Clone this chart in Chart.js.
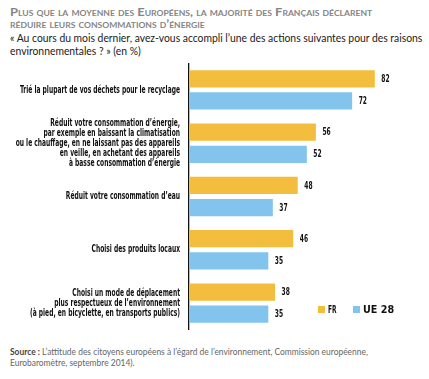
<!DOCTYPE html>
<html><head><meta charset="utf-8">
<script src="https://cdn.jsdelivr.net/npm/chart.js@4.4.1/dist/chart.umd.min.js"></script>
<style>
html,body{margin:0;padding:0;background:#fff;width:429px;height:379px;overflow:hidden;}
.t{position:absolute;left:10px;white-space:nowrap;transform-origin:0 50%;line-height:14px;height:14px;}
.title{font-family:Lato,"Liberation Sans",sans-serif;font-weight:700;font-variant:small-caps;color:#858585;font-size:12px;}
.sub{font-family:Lato,"Liberation Sans",sans-serif;font-size:11px;color:#1a1a1a;}
.src{font-family:Lato,"Liberation Sans",sans-serif;font-size:10px;color:#666;}
.src b{color:#444;}
#wrap{position:absolute;left:0;top:60px;width:429px;height:275px;}
.lg{position:absolute;font-family:"DejaVu Sans Condensed","Liberation Sans",sans-serif;font-weight:bold;font-size:10px;color:#111;line-height:10px;white-space:nowrap;transform-origin:0 50%;}
.sw{position:absolute;width:7px;height:7px;}
</style></head><body>
<div class="t title" id="t1" data-w="362" style="top:5px">Plus que la moyenne des Européens, la majorité des Français déclarent</div>
<div class="t title" data-w="195" style="top:17px">réduire leurs consommations d’énergie</div>
<div class="t sub" id="s1" data-w="412" style="top:31px">« Au cours du mois dernier, avez-vous accompli l’une des actions suivantes pour des raisons</div>
<div class="t sub" data-same="s1" style="top:44px">environnementales ? » (en %)</div>
<div class="t src" id="r1" data-w="358" style="top:344px"><b>Source :</b> L’attitude des citoyens européens à l’égard de l’environnement, Commission européenne,</div>
<div class="t src" data-same="r1" style="top:355px">Eurobaromètre, septembre 2014).</div>
<div id="wrap"><canvas id="c"></canvas></div>
<div id="legend"></div>
<script>
const categories = [
  ["Trié la plupart de vos déchets pour le recyclage"],
  ["Réduit votre consommation d’énergie,", "par exemple en baissant la climatisation", "ou le chauffage, en ne laissant pas des appareils", "en veille, en achetant des appareils", "à basse consommation d’énergie"],
  ["Réduit votre consommation d’eau"],
  ["Choisi des produits locaux"],
  ["Choisi un mode de déplacement", "plus respectueux de l’environnement", "(à pied, en bicyclette, en transports publics)"]
];
const seriesNames = ["FR", "UE 28"];
const frValues = [82, 56, 48, 46, 38];
const ueValues = [72, 52, 37, 35, 35];
const seriesColors = ["#F3BE3E", "#82C4EE"];

const FAMILY = '"DejaVu Sans Condensed", "Liberation Sans", sans-serif';

// fit HTML text lines horizontally
const scales = {};
document.querySelectorAll('.t').forEach(el => {
  let k;
  if (el.dataset.same) k = scales[el.dataset.same];
  else k = (+el.dataset.w) / el.scrollWidth;
  if (el.id) scales[el.id] = k;
  el.style.transform = 'scaleX(' + k + ')';
});

// horizontal condensing factor for the canvas label font (reference is a condensed face)
const mctx = document.createElement('canvas').getContext('2d');
mctx.font = 'bold 10px ' + FAMILY;
const K = 160 / mctx.measureText(categories[0][0]).width;

// legend
const legendPos = [318, 353];
const legendW = [8.5, 31];
const lg = document.getElementById('legend');
seriesNames.forEach((n, i) => {
  const s = document.createElement('div');
  s.className = 'sw'; s.style.left = legendPos[i] + 'px'; s.style.top = '306px'; s.style.background = seriesColors[i];
  lg.appendChild(s);
  const t = document.createElement('div');
  t.className = 'lg'; t.style.left = (legendPos[i] + 10) + 'px'; t.style.top = '305px'; t.textContent = n;
  lg.appendChild(t);
  t.style.transform = 'scaleX(' + (legendW[i] / t.scrollWidth) + ')';
});

const valueLabels = {
  id: 'valueLabels',
  afterDatasetsDraw(chart) {
    const ctx = chart.ctx;
    chart.data.datasets.forEach((ds, di) => {
      chart.getDatasetMeta(di).data.forEach((bar, i) => {
        ctx.save();
        ctx.font = 'bold 10px ' + FAMILY;
        ctx.fillStyle = '#111';
        ctx.textAlign = 'left';
        ctx.textBaseline = 'middle';
        ctx.translate(bar.x + 6.5, bar.y + 0.5);
        ctx.scale(K, 1);
        ctx.fillText(String(ds.data[i]), 0, 0);
        ctx.restore();
      });
    });
  }
};

const condenseLabels = {
  id: 'condenseLabels',
  beforeDraw(chart) {
    const s = chart.scales.y;
    if (s._condensed) return;
    const orig = s.drawLabels.bind(s);
    s.drawLabels = function (area) {
      const ctx = this.ctx;
      const ax = this.right - this.options.ticks.padding;
      const oldLeft = this.left;
      this.left = -2000; // widen the label clip region (it is transformed by the scale below)
      ctx.save();
      ctx.translate(ax, 0); ctx.scale(K, 1); ctx.translate(-ax, 0);
      orig(area);
      ctx.restore();
      this.left = oldLeft;
    };
    s._condensed = true;
  }
};

new Chart(document.getElementById('c'), {
  type: 'bar',
  data: {
    labels: categories,
    datasets: [
      { label: seriesNames[0], data: frValues, backgroundColor: seriesColors[0] },
      { label: seriesNames[1], data: ueValues, backgroundColor: seriesColors[1] }
    ]
  },
  options: {
    indexAxis: 'y',
    responsive: true,
    maintainAspectRatio: false,
    animation: false,
    devicePixelRatio: 1,
    categoryPercentage: 0.83,
    barPercentage: 0.78,
    layout: { padding: { left: 0, right: 13.4, top: 3.3, bottom: 5.3 } },
    plugins: { legend: { display: false }, tooltip: { enabled: false } },
    scales: {
      x: { display: false, min: 0, max: 100 },
      y: {
        afterFit: s => { s.width = 189; s.paddingTop = 0; s.paddingBottom = 0; s.paddingLeft = 0; s.paddingRight = 0; },
        grid: { display: false, drawTicks: false },
        border: { display: true, color: '#111', width: 1.3 },
        ticks: {
          color: '#111',
          autoSkip: false,
          padding: 9,
          font: { family: FAMILY, weight: 'bold', size: 10, lineHeight: 1.0 }
        }
      }
    }
  },
  plugins: [valueLabels, condenseLabels]
});
</script>
</body></html>
